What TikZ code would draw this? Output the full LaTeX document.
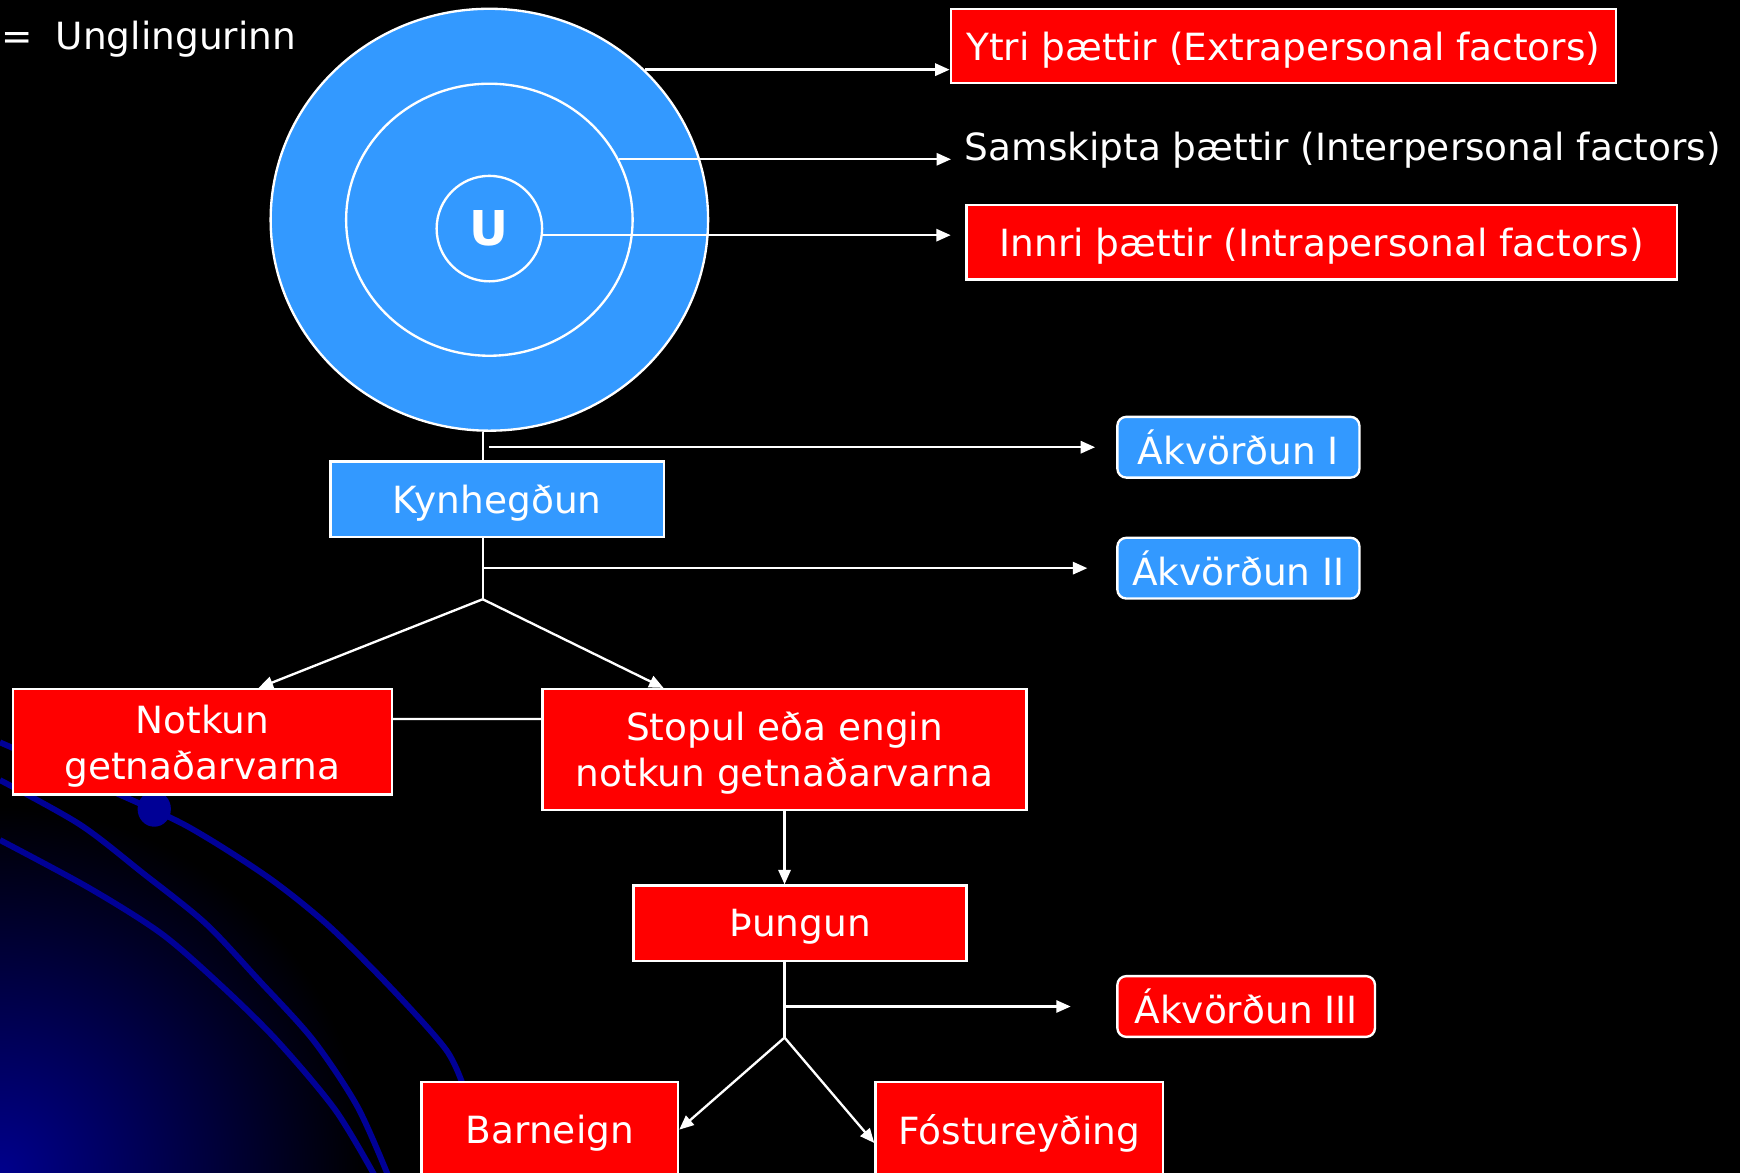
\documentclass[tikz,border=0pt]{standalone}
\usepackage{fontspec}
\setmainfont{DejaVu Sans}
\usetikzlibrary{arrows.meta,shapes.geometric}
\definecolor{ublue}{RGB}{51,153,255}
\definecolor{boxred}{RGB}{255,0,0}
\definecolor{curveblue}{RGB}{0,0,150}
\definecolor{glowblue}{RGB}{0,0,140}
\begin{document}
\begin{tikzpicture}[
  x=0.01cm, y=-0.01cm,
  every node/.style = {text=white, font=\fontsize{9.6}{11.8}\selectfont},
  box/.style = {rectangle, draw=white, line width=0.6pt, align=center, text depth=0pt},
  redbox/.style = {box, fill=boxred},
  bluebox/.style = {box, fill=ublue},
  choice/.style = {box, rounded corners=0.08cm, minimum width=2.18cm, minimum height=0.54cm},
  ring/.style = {ellipse, draw=white, fill=ublue, line width=0.6pt},
  link/.style = {draw=white, line width=0.6pt},
  arrow/.style = {link, -{Triangle[length=1.3mm,width=1.1mm]}},
  curve/.style = {draw=curveblue, line width=1.5pt}
]
  % background of the slide
  \fill[black] (0,0) rectangle (1568,1057);
  \useasboundingbox (0,0) rectangle (1568,1057);
  \begin{scope}
    \clip (0,0) rectangle (1568,1057);
    \shade[inner color=glowblue, outer color=black] (0,1057) circle (3.3cm);
    \draw[curve] plot[smooth] coordinates {(0,669) (139,730) (185,754) (245,793) (297,835) (354,892) (402,946) (418,980)};
    \draw[curve] plot[smooth] coordinates {(0,703) (72,743) (129,787) (185,832) (233,883) (282,937) (322,997) (350,1060)};
    \draw[curve] plot[smooth] coordinates {(0,757) (80,800) (145,841) (197,886) (249,937) (302,1000) (338,1060)};
    \fill[curveblue] (139,729) ellipse (0.15cm and 0.16cm);
  \end{scope}

  % the three rings
  \node[ring, minimum width=3.94cm, minimum height=3.80cm] (outer) at (441,198) {};
  \node[ring, minimum width=2.58cm, minimum height=2.45cm] (mid) at (441,198) {};
  \node[ring, circle, minimum size=0.95cm, inner sep=0pt, font=\fontsize{12.3}{14}\selectfont\bfseries] (inner) at (441,206) {U};
  \node[anchor=base west, inner sep=0pt] (legend) at (1,45) {=\hspace{0.6em}Unglingurinn};

  % factors
  \node[redbox, minimum width=5.99cm, minimum height=0.67cm] (ytri) at (1156.5,41.5) {Ytri þættir (Extrapersonal factors)};
  \node[anchor=west] (samskipta) at (857,135) {Samskipta þættir (Interpersonal factors)};
  \node[redbox, minimum width=6.40cm, minimum height=0.67cm] (innri) at (1191,218.5) {Innri þættir (Intrapersonal factors)};

  % flow
  \node[bluebox, minimum width=3.00cm, minimum height=0.68cm] (kyn) at (448,450) {Kynhegðun};
  \node[choice, fill=ublue] (ak1) at (1116,403) {Ákvörðun I};
  \node[choice, fill=ublue] (ak2) at (1116,512) {Ákvörðun II};
  \node[redbox, minimum width=3.41cm, minimum height=0.95cm] (notkun) at (182.5,668.5) {Notkun\\getnaðarvarna};
  \node[redbox, minimum width=4.36cm, minimum height=1.09cm] (stopul) at (707,675.5) {Stopul eða engin\\notkun getnaðarvarna};
  \node[redbox, minimum width=3.00cm, minimum height=0.68cm] (thungun) at (721,832) {Þungun};
  \node[choice, fill=boxred, minimum width=2.32cm] (ak3) at (1123,907) {Ákvörðun III};
  \node[redbox, minimum width=2.31cm, minimum height=0.86cm] (barneign) at (495.5,1018) {Barneign};
  \node[redbox, minimum width=2.59cm, minimum height=0.86cm] (fostur) at (918.5,1018) {Fóstureyðing};

  \coordinate (split1) at (435,540);
  \coordinate (split2) at (707,935);
  \coordinate (start1) at (441,403);

  % connectors
  \draw[arrow] (outer.44) -- (outer.44 -| ytri.west);
  \draw[arrow] (mid.25) -- (mid.25 -| samskipta.west);
  \draw[arrow, shorten >=0.13cm] (inner.-7) -- (inner.-7 -| innri.west);
  \draw[link] (split1 |- outer.south) -- (split1 |- kyn.north);
  \draw[link] (split1 |- kyn.south) -- (split1);
  \draw[arrow, shorten >=0.19cm] (start1) -- (start1 -| ak1.west);
  \draw[arrow, shorten >=0.26cm] (split1 |- ak2.west) -- (ak2.west);
  \draw[arrow] (split1) -- ([xshift=0.505cm]notkun.north);
  \draw[arrow] (split1) -- ([xshift=-1.09cm]stopul.north);
  \draw[link] ([yshift=0.205cm]notkun.east) -- ([yshift=0.275cm]stopul.west);
  \draw[arrow] (stopul.south) -- (stopul.south |- thungun.north);
  \draw[link] (split2 |- thungun.south) -- (split2);
  \draw[arrow, shorten >=0.41cm] (split2 |- ak3.west) -- (ak3.west);
  \draw[arrow] (split2) -- (barneign.east);
  \draw[arrow] (split2) -- ([yshift=-0.12cm]fostur.west);
\end{tikzpicture}
\end{document}
